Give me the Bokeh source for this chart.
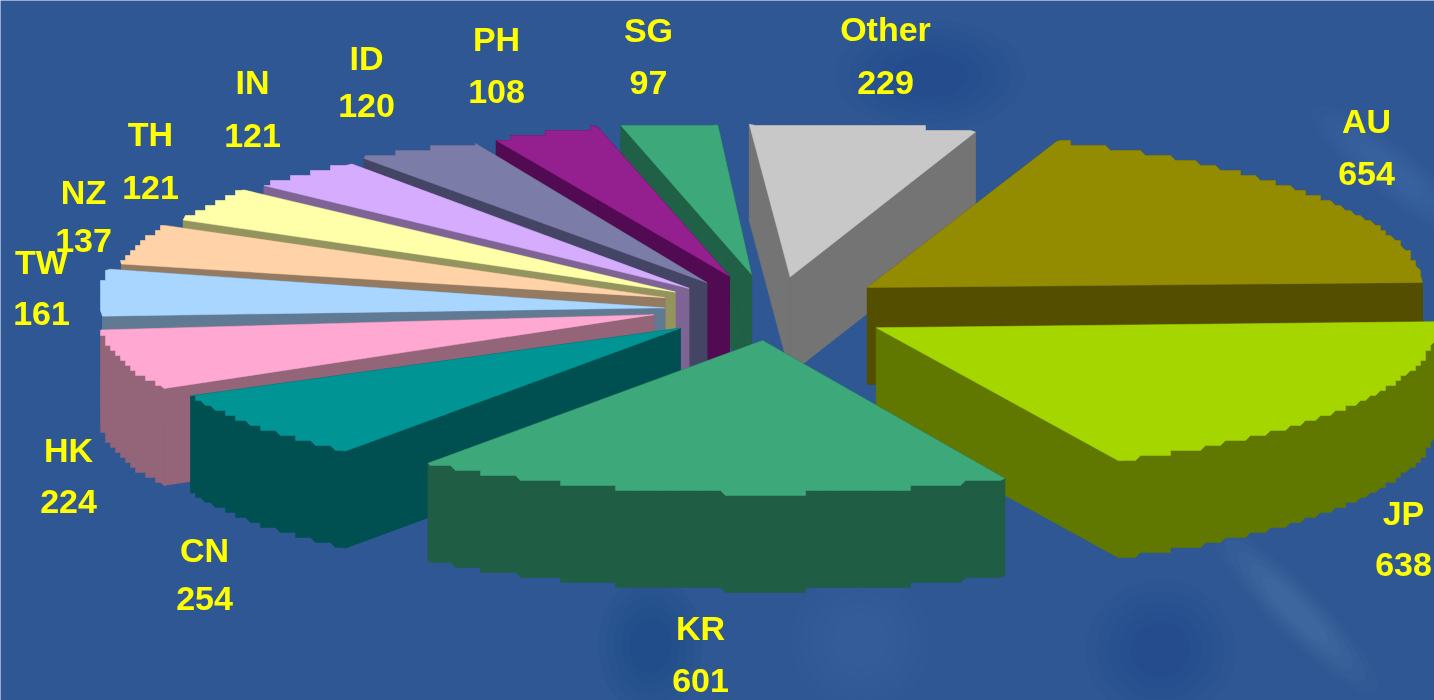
import numpy as np
from bokeh.plotting import figure
from bokeh.models import ColumnDataSource, Range1d
from bokeh.core.properties import value
from bokeh.embed import file_html
from bokeh.resources import INLINE

# --- data -------------------------------------------------------------
names = ["AU", "JP", "KR", "CN", "HK", "TW", "NZ", "TH", "IN", "ID", "PH", "SG", "Other"]
values = [654, 638, 601, 254, 224, 161, 137, 121, 121, 120, 108, 97, 229]

# --- style ------------------------------------------------------------
top_colors = ["#938C00", "#A6D600", "#3DA87A", "#009494", "#FFA8D2", "#A8D6FF", "#FFD2A8",
              "#FFFFAA", "#D6ACFF", "#7C7CA8", "#941F8F", "#3DA87A", "#C8C8C8"]
wall_colors = ["#544E00", "#607800", "#1F5E44", "#005052", "#946478", "#607A94", "#947A60",
               "#94945E", "#7E6494", "#444464", "#520A52", "#1F6046", "#747474"]
pull = [135, 135, 115, 105, 108, 95, 100, 100, 100, 100, 100, 105, 110]
# small per-slice corrections of the drawing (apex, rim at slice start, rim at slice end)
apex_nudge = [(0, 0), (0, 0), (12, 0), (0, 0), (-2, -3), (0, 0), (0, -3), (0, -3), (0, -2), (1, -4), (5, -8), (10, -7), (17, -3)]
rim_nudge_a = [(7, -3), (0, 2), (2, 3), (-8, 0), (3, 0), (-4, -4), (4, -5), (10, -8), (11, -10), (7, -10), (18, -8), (23, -10), (23, -5)]
rim_nudge_b = [(-4, 3), (-10, -2), (4, 0), (5, -3), (3, 0), (-7, -7), (3, -8), (5, -10), (12, -8), (15, -8), (17, -11), (23, -6), (20, -5)]
label_xy = [(1366, 120, 173), (1403, 512, 564), (700, 627, 680), (204, 549, 598), (68, 449, 501),
            (41, 261, 313), (83, 191, 240), (150, 133, 187), (252, 81, 135), (366, 57, 105),
            (496, 38, 91), (648, 29, 82), (885, 28, 82)]

W, H = 1434, 700
CX, CY = 759, 309     # pie centre on the page
R = 560               # radius
TILT = 0.27           # vertical squash of the disc
DEPTH = 97            # extrusion
START = 19.0          # first slice angle, clockwise from north
STEP = 5              # stair step of the low-res rim

p = figure(width=W, height=H, x_range=Range1d(0, W), y_range=Range1d(H, 0),
           output_backend="svg", toolbar_location=None, min_border=0,
           background_fill_color="#2E5793", border_fill_color="#2E5793",
           outline_line_color=None, styles={"position": "fixed", "left": "0px", "top": "0px"})
p.axis.visible = False
p.grid.visible = False

# soft background swirl: x, y, half-width, half-height, angle, colour, alpha per layer
blobs = [(930, 75, 95, 55, 0.0, "#174390", 0.05),
         (650, 645, 52, 70, 0.0, "#0F3D80", 0.08),
         (860, 640, 70, 70, 0.0, "#5480B0", 0.03),
         (1160, 650, 75, 70, 0.0, "#17438F", 0.05),
         (1295, 610, 25, 115, 0.78, "#6088B8", 0.07),
         (1390, 170, 25, 100, 0.9, "#5A82B4", 0.06)]
for bx, by, bw, bh, ang, bc, ba in blobs:
    for f in (1.0, 0.85, 0.7, 0.55, 0.4):
        p.ellipse(x=bx, y=by, width=2 * bw * f, height=2 * bh * f, angle=ang,
                  fill_color=bc, fill_alpha=ba, line_color=None)

total = sum(values)
spans = np.array(values) / total * 360.0
starts = START + np.concatenate([[0], np.cumsum(spans)[:-1]])


def snap(xs, ys):
    sx = np.round(xs / STEP) * STEP
    sy = np.round(ys / STEP) * STEP
    pts = [(sx[0], sy[0])]
    for a, b in zip(sx, sy):
        if (a, b) != pts[-1]:
            pts.append((a, b))
    return np.array([q[0] for q in pts]), np.array([q[1] for q in pts])


# painter's order, back to front
order = [12, 11, 10, 9, 8, 7, 6, 5, 4, 3, 0, 1, 2]
px, py, pc = [], [], []
for i in order:
    a0, span = starts[i], spans[i]
    mid = np.radians(a0 + span / 2)
    ax = CX + pull[i] * np.sin(mid) + apex_nudge[i][0]
    ay = CY - pull[i] * TILT * np.cos(mid) + apex_nudge[i][1]
    bx0 = CX + pull[i] * np.sin(mid)
    by0 = CY - pull[i] * TILT * np.cos(mid)
    th = np.radians(np.linspace(a0, a0 + span, 160))
    t = np.linspace(0, 1, 160)
    rx = bx0 + R * np.sin(th) + rim_nudge_a[i][0] * (1 - t) + rim_nudge_b[i][0] * t
    ry = by0 - R * TILT * np.cos(th) + rim_nudge_a[i][1] * (1 - t) + rim_nudge_b[i][1] * t
    sx, sy = snap(rx, ry)
    rim_x = np.concatenate([[rx[0]], sx[1:-1], [rx[-1]]])
    rim_y = np.concatenate([[ry[0]], sy[1:-1], [ry[-1]]])
    px.append([ax, rx[0], rx[0], ax]); py.append([ay, ry[0], ry[0] + DEPTH, ay + DEPTH]); pc.append(wall_colors[i])
    px.append([ax, rx[-1], rx[-1], ax]); py.append([ay, ry[-1], ry[-1] + DEPTH, ay + DEPTH]); pc.append(wall_colors[i])
    px.append(np.concatenate([rim_x, rim_x[::-1]]).tolist())
    py.append(np.concatenate([rim_y, rim_y[::-1] + DEPTH]).tolist()); pc.append(wall_colors[i])
    px.append(np.concatenate([[ax], rim_x]).tolist())
    py.append(np.concatenate([[ay], rim_y]).tolist()); pc.append(top_colors[i])

p.patches("x", "y", source=ColumnDataSource(dict(x=px, y=py, c=pc)), fill_color="c", line_color="c", line_width=0.5)

lx, ly, lt = [], [], []
for n, v, (x, y1, y2) in zip(names, values, label_xy):
    lx += [x, x]; ly += [y1, y2]; lt += [n, str(v)]
p.text(x=lx, y=ly, text=lt, text_color="#FFFF00", text_font=value("Liberation Sans"), text_font_style="bold",
       text_font_size="34px", text_align="center", text_baseline="middle")

open("out.html", "w").write(file_html(p, INLINE))
